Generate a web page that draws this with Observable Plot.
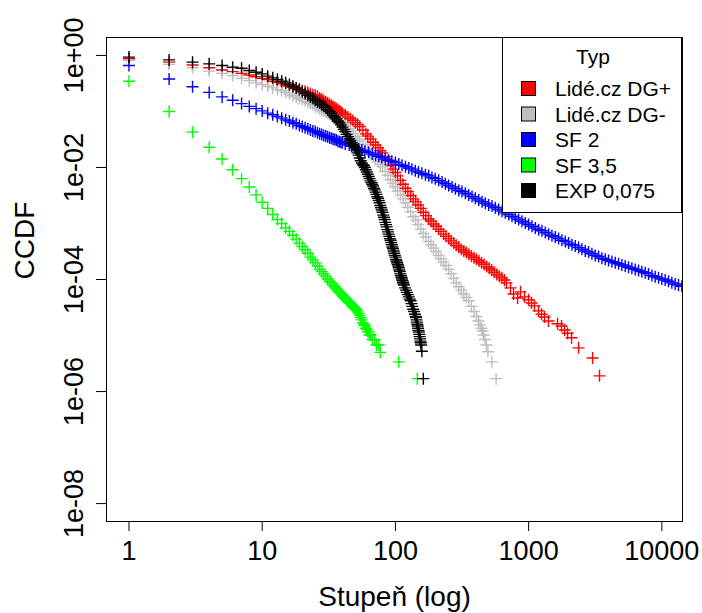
<!DOCTYPE html>
<html><head><meta charset="utf-8">
<script src="https://cdn.jsdelivr.net/npm/d3@7"></script>
<script src="https://cdn.jsdelivr.net/npm/@observablehq/plot@0.6"></script>
<style>body{margin:0;background:#fff} svg{display:block}</style>
</head><body><div id="chart"></div>
<script>
const seriesNames = ["Lidé.cz DG+", "Lidé.cz DG-", "SF 2", "SF 3,5", "EXP 0,075"];
const seriesColors = ["#FF0000", "#BEBEBE", "#0000FF", "#00FF00", "#000000"];
const legendTitle = "Typ";
const xLabel = "Stupeň (log)";
const yLabel = "CCDF";
const xTicks = [1, 10, 100, 1000, 10000];
const yTicks = [1, 1e-2, 1e-4, 1e-6, 1e-8];
const yTickLabels = ["1e+00", "1e-02", "1e-04", "1e-06", "1e-08"];

// Lidé.cz DG+
const degDGplus = [1,2,3,4,5,6,7,8,9,10,11,12,13,14,15,16,17,18,19,20,21,22,23,24,25,26,27,28,29,30,31,32,33,34,35,36,37,38,39,40,
  42,44,46,48,50,52,54,57,60,62,65,68,71,74,77,80,84,88,92,96,100,104,109,114,119,124,130,136,142,148,155,162,169,177,185,193,202,211,220,230,240,251,262,274,286,299,312,326,341,356,372,389,406,424,443,463,484,506,528,552,577,603,630,658,
  682,731,770,826,869,932,998,1052,1107,1186,1250,1316,1410,1648,1766,1862,1960,2100,2371,3020,3405];
const logCcdfDGplus = [-0.06,-0.12,-0.17,-0.22,-0.26,-0.29,-0.32,-0.35,-0.38,-0.41,-0.43,-0.46,-0.48,-0.50,-0.53,-0.55,-0.57,-0.59,-0.61,-0.63,-0.64,-0.66,-0.68,-0.70,-0.71,-0.73,-0.76,-0.78,-0.81,-0.83,-0.85,-0.87,-0.89,-0.91,-0.93,-0.95,-0.97,-0.99,-1.01,-1.03,
  -1.06,-1.10,-1.13,-1.16,-1.20,-1.23,-1.27,-1.33,-1.40,-1.44,-1.49,-1.55,-1.60,-1.65,-1.70,-1.74,-1.81,-1.88,-1.96,-2.03,-2.09,-2.15,-2.23,-2.30,-2.37,-2.43,-2.50,-2.56,-2.61,-2.67,-2.73,-2.80,-2.86,-2.92,-2.96,-3.01,-3.05,-3.10,-3.14,-3.19,-3.23,-3.27,-3.31,-3.35,-3.39,-3.42,-3.46,-3.49,-3.52,-3.55,-3.58,-3.61,-3.64,-3.67,-3.70,-3.73,-3.77,-3.80,-3.83,-3.87,-3.91,-3.94,-3.97,-4.01,
  -4.06,-4.15,-4.26,-4.33,-4.22,-4.31,-4.36,-4.42,-4.47,-4.56,-4.62,-4.67,-4.74,-4.79,-4.83,-4.90,-4.96,-5.04,-5.22,-5.40,-5.72];

// Lidé.cz DG-
const degDGminus = [1,2,3,4,5,6,7,8,9,10,11,12,13,14,15,16,17,18,19,20,21,22,23,24,25,26,27,28,29,30,31,32,33,34,35,36,37,38,39,40,
  42,44,46,48,50,52,54,57,60,62,65,68,71,74,77,80,84,88,92,96,100,104,109,114,119,124,130,136,142,148,155,162,169,177,185,193,202,211,220,230,240,251,262,274,286,299,312,326,341,356,372,389,406,420,432,443,452,460,470,482,495,530,570];
const logCcdfDGminus = [-0.09,-0.16,-0.22,-0.28,-0.32,-0.36,-0.41,-0.45,-0.49,-0.52,-0.55,-0.58,-0.61,-0.63,-0.66,-0.69,-0.72,-0.74,-0.77,-0.79,-0.82,-0.84,-0.86,-0.88,-0.91,-0.93,-0.95,-0.97,-0.99,-1.01,-1.03,-1.05,-1.08,-1.10,-1.12,-1.14,-1.16,-1.18,-1.20,-1.22,
  -1.26,-1.31,-1.35,-1.40,-1.45,-1.49,-1.53,-1.59,-1.65,-1.68,-1.74,-1.80,-1.85,-1.90,-1.95,-1.99,-2.07,-2.14,-2.22,-2.28,-2.35,-2.42,-2.49,-2.56,-2.63,-2.71,-2.79,-2.88,-2.94,-3.02,-3.10,-3.18,-3.24,-3.32,-3.38,-3.44,-3.50,-3.57,-3.63,-3.69,-3.75,-3.82,-3.90,-3.98,-4.06,-4.13,-4.19,-4.26,-4.32,-4.38,-4.48,-4.57,-4.66,-4.74,-4.81,-4.87,-4.92,-4.99,-5.07,-5.17,-5.29,-5.47,-5.77];

// SF 2
const degSF2 = [1,2,3,4,5,6,7,8,9,10,11,12,13,14,15,16,17,18,19,20,21,22,23,24,25,26,27,28,29,30,31,32,33,34,35,36,37,38,39,40,
  42,45,47,50,53,56,59,63,67,71,75,79,84,89,94,100,106,112,119,126,133,141,149,158,168,178,188,199,211,224,237,251,266,282,299,316,335,355,376,398,422,447,473,501,531,562,596,631,668,708,750,794,841,891,944,1000,1059,1122,1189,1259,1334,1413,1496,1585,1679,1778,1884,1995,2113,2239,2371,2512,2661,2818,2985,3162,3350,3548,3758,3981,4217,4467,4732,5012,5309,5623,5957,6310,6683,7079,7499,7943,8414,8913,9441,10000,10593,11220,11885,12589,13335,14125];
const logCcdfSF2 = [-0.18,-0.42,-0.56,-0.66,-0.74,-0.80,-0.86,-0.91,-0.95,-0.99,-1.03,-1.06,-1.09,-1.12,-1.15,-1.17,-1.20,-1.22,-1.25,-1.27,-1.29,-1.31,-1.33,-1.35,-1.36,-1.38,-1.40,-1.41,-1.43,-1.44,-1.45,-1.47,-1.48,-1.49,-1.50,-1.51,-1.53,-1.54,-1.55,-1.56,
  -1.58,-1.60,-1.62,-1.645,-1.67,-1.69,-1.71,-1.73,-1.76,-1.78,-1.80,-1.82,-1.85,-1.87,-1.89,-1.91,-1.94,-1.96,-1.985,-2.01,-2.03,-2.06,-2.08,-2.105,-2.13,-2.15,-2.18,-2.20,-2.23,-2.26,-2.29,-2.32,-2.35,-2.38,-2.41,-2.43,-2.46,-2.49,-2.52,-2.55,-2.58,-2.61,-2.64,-2.67,-2.69,-2.72,-2.75,-2.78,-2.81,-2.84,-2.87,-2.90,-2.93,-2.96,-2.99,-3.02,-3.05,-3.08,-3.11,-3.13,-3.16,-3.19,-3.22,-3.24,-3.27,-3.30,-3.32,-3.35,-3.38,-3.40,-3.43,-3.46,-3.49,-3.51,-3.54,-3.57,-3.59,-3.62,-3.64,-3.66,-3.68,-3.70,-3.72,-3.74,-3.76,-3.78,-3.80,-3.82,-3.84,-3.86,-3.88,-3.90,-3.93,-3.95,-3.97,-3.99,-4.01,-4.03,-4.06,-4.08,-4.10,-4.12];

// SF 3,5
const degSF35 = [1,2,3,4,5,6,7,8,9,10,11,12,13,14,15,16,17,18,19,20,21,22,23,24,25,26,27,28,29,30,31,32,33,34,35,36,37,38,39,40,41,42,43,44,45,46,47,48,49,50,51,52,53,54,55,56,57,58,59,60,61,62,63,64,65,67,70,72,75,77,106,146];
const logCcdfSF35 = [-0.46,-1.00,-1.37,-1.64,-1.85,-2.04,-2.20,-2.35,-2.49,-2.62,-2.73,-2.84,-2.93,-3.00,-3.08,-3.14,-3.21,-3.28,-3.35,-3.41,-3.47,-3.53,-3.60,-3.65,-3.70,-3.76,-3.82,-3.86,-3.90,-3.94,-3.99,-4.03,-4.06,-4.10,-4.13,-4.16,-4.20,-4.23,-4.26,-4.28,-4.31,-4.33,-4.36,-4.39,-4.41,-4.43,-4.46,-4.48,-4.50,-4.52,-4.54,-4.56,-4.60,-4.64,-4.68,-4.72,-4.77,-4.80,-4.82,-4.87,-4.89,-4.93,-4.93,-4.99,-4.99,-5.07,-5.07,-5.17,-5.17,-5.30,-5.47,-5.77];

// EXP 0,075
const degEXP = [1,2,3,4,5,6,7,8,9,10,11,12,13,14,15,16,17,18,19,20,21,22,23,24,25,26,27,28,29,30,31,32,33,34,35,36,37,38,39,40,41,42,43,44,45,46,47,48,49,50,51,52,53,54,55,56,57,58,59,60,61,62,63,64,65,66,67,68,69,70,71,72,73,74,75,76,77,78,79,80,81,82,83,84,85,86,87,88,89,90,91,92,93,94,95,96,97,98,99,100,101,102,103,104,105,106,107,108,109,110,111,112,113,114,115,116,
  118,120,122,124,126,128,130,132,134,136,138,140,142,143,144,145,146,147,148,149,150,151,152,153,154,155,156,158,162];
const logCcdfEXP = [-0.03,-0.08,-0.12,-0.15,-0.18,-0.21,-0.23,-0.27,-0.30,-0.33,-0.37,-0.40,-0.43,-0.46,-0.49,-0.52,-0.55,-0.58,-0.61,-0.65,-0.68,-0.71,-0.74,-0.77,-0.80,-0.83,-0.85,-0.88,-0.90,-0.93,-0.97,-1.00,-1.03,-1.07,-1.10,-1.13,-1.17,-1.20,-1.24,-1.28,-1.32,-1.36,-1.41,-1.45,-1.49,-1.52,-1.56,-1.59,-1.62,-1.65,-1.69,-1.74,-1.78,-1.83,-1.88,-1.92,-1.95,-1.97,-2.00,-2.04,-2.08,-2.12,-2.16,-2.20,-2.24,-2.27,-2.30,-2.33,-2.37,-2.40,-2.44,-2.48,-2.52,-2.55,-2.59,-2.63,-2.68,-2.72,-2.76,-2.80,-2.85,-2.89,-2.93,-2.98,-3.02,-3.06,-3.11,-3.15,-3.19,-3.23,-3.27,-3.30,-3.34,-3.38,-3.42,-3.45,-3.49,-3.53,-3.57,-3.60,-3.64,-3.67,-3.70,-3.73,-3.76,-3.79,-3.83,-3.86,-3.90,-3.93,-3.96,-3.99,-4.02,-4.05,-4.08,-4.10,
  -4.15,-4.19,-4.23,-4.27,-4.31,-4.35,-4.38,-4.43,-4.48,-4.53,-4.57,-4.62,-4.66,-4.68,-4.72,-4.76,-4.80,-4.83,-4.87,-4.91,-4.94,-4.98,-5.02,-5.06,-5.10,-5.13,-5.17,-5.28,-5.77];

const degs = [degDGplus, degDGminus, degSF2, degSF35, degEXP];
const logCcdfs = [logCcdfDGplus, logCcdfDGminus, logCcdfSF2, logCcdfSF35, logCcdfEXP];

const font = "'Liberation Sans', Arial, Helvetica, sans-serif";
const cross = {
  draw(ctx, size) {
    const r = Math.sqrt(size / Math.PI);
    ctx.moveTo(-r, 0); ctx.lineTo(r, 0);
    ctx.moveTo(0, -r); ctx.lineTo(0, r);
  }
};

const dotMarks = seriesNames.map((name, i) => {
  const rows = degs[i].map((k, j) => ({k, p: Math.pow(10, logCcdfs[i][j]), name}));
  return Plot.dot(rows, {x: "k", y: "p", symbol: cross, r: 6, stroke: seriesColors[i], strokeWidth: 1.4, fill: "none", clip: true});
});

const chart = Plot.plot({
  width: 702, height: 613,
  marginLeft: 106, marginRight: 20, marginTop: 37, marginBottom: 92,
  style: {fontFamily: font, background: "white", color: "black", overflow: "visible"},
  x: {type: "log", domain: [0.678, 14290]},
  y: {type: "log", domain: [4.79e-9, 2.089]},
  marks: [
    ...dotMarks,
    Plot.frame({stroke: "black", strokeWidth: 1}),
    Plot.axisX({ticks: xTicks, tickSize: 10, tickPadding: 9, fontSize: 27, tickFormat: d => String(d), label: null}),
    Plot.axisY({ticks: yTicks, tickSize: 10, tickFormat: () => "", label: null}),
    Plot.text(yTicks, {y: d => d, text: (d, i) => yTickLabels[i], frameAnchor: "left", dx: -24, rotate: -90, lineAnchor: "bottom", textAnchor: "middle", fontSize: 27}),
    Plot.text([yLabel], {text: d => d, frameAnchor: "left", dx: -73, rotate: -90, lineAnchor: "bottom", fontSize: 28}),
    Plot.text([xLabel], {text: d => d, frameAnchor: "bottom", dy: 84, lineAnchor: "bottom", fontSize: 28})
  ]
});

document.getElementById("chart").appendChild(chart);

// legend (R-style boxed legend in the top-right corner of the plot region)
const svg = d3.select(chart);
const lg = svg.append("g").attr("font-family", font).attr("font-size", 21).attr("fill", "black").attr("text-anchor", "start");
lg.append("rect").attr("x", 502.5).attr("y", 37.5).attr("width", 179).attr("height", 175).attr("fill", "white").attr("stroke", "black");
lg.append("text").attr("x", 593).attr("y", 64).attr("text-anchor", "middle").text(legendTitle);
seriesNames.forEach((name, i) => {
  const cy = 88.5 + i * 25.5;
  lg.append("rect").attr("x", 521.5).attr("y", cy - 7).attr("width", 14).attr("height", 14).attr("fill", seriesColors[i]).attr("stroke", "black");
  lg.append("text").attr("x", 555).attr("y", cy + 7.5).attr("text-anchor", "start").text(name);
});
</script>
</body></html>
